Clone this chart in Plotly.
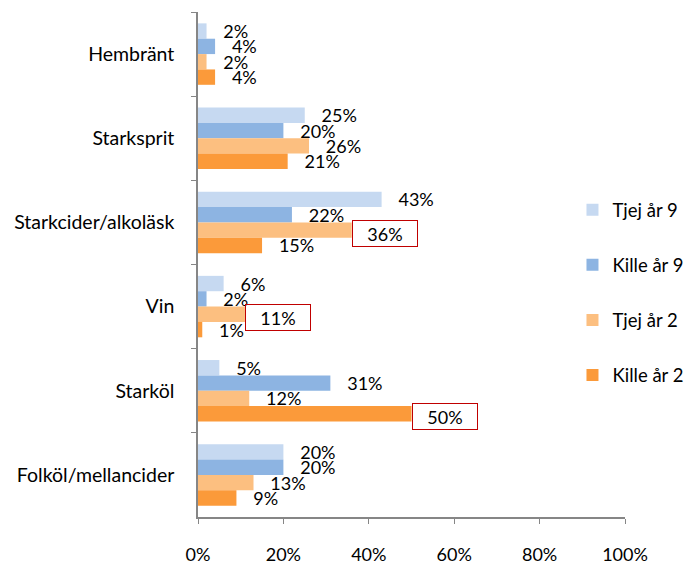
import plotly.graph_objects as go

kategorier = ["Hembränt", "Starksprit", "Starkcider/alkoläsk", "Vin", "Starköl", "Folköl/mellancider"]
serier = ["Tjej år 9", "Kille år 9", "Tjej år 2", "Kille år 2"]
tjej_9 = [2, 25, 43, 6, 5, 20]
kille_9 = [4, 20, 22, 2, 31, 20]
tjej_2 = [2, 26, 36, 11, 12, 13]
kille_2 = [4, 21, 15, 1, 50, 9]
x_ticks = [0, 20, 40, 60, 80, 100]
# (kategori, serie) whose labels are boxed in red
markerade = [("Starkcider/alkoläsk", 2), ("Vin", 2), ("Starköl", 3)]

farger = ["#C6D9F1", "#8DB4E2", "#FCBF80", "#FB9A3A"]
varden = [tjej_9, kille_9, tjej_2, kille_2]

FONT = "Lato, Calibri, sans-serif"
FS = 18
BARGAP = 0.27
TOP, BOTTOM, LEFT, RIGHT = 12, 47, 198, 61
W, H = 686, 564

fig = go.Figure()
for i, (namn, vals) in enumerate(zip(serier, varden)):
    texter = []
    for kat, v in zip(kategorier, vals):
        if (kat, i) in markerade:
            texter.append("")
        else:
            texter.append("\u00a0\u00a0\u00a0" + f"{v}%")
    fig.add_trace(go.Bar(
        y=kategorier, x=vals, name=namn, orientation="h",
        marker=dict(color=farger[i], line=dict(width=0)),
        text=texter, textposition="outside", constraintext="none",
        textfont=dict(size=FS, color="black", family=FONT),
        cliponaxis=False, legendgroup=namn,
    ))

# red boxes around highlighted labels
kat_px = (H - TOP - BOTTOM) / len(kategorier)
bar_w = (1 - BARGAP) / len(serier)
for kat, i in markerade:
    v = varden[i][kategorier.index(kat)]
    offset = (-(1 - BARGAP) / 2 + bar_w * (i + 0.5)) * kat_px
    fig.add_annotation(
        x=v, y=kat, xref="x", yref="y", xanchor="left", yanchor="middle",
        yshift=-offset - 3, text=f"{v}%", showarrow=False, align="center",
        width=61, borderpad=1.5, bordercolor="#C00000", borderwidth=1,
        font=dict(size=FS, color="black", family=FONT),
    )

fig.update_layout(
    width=W, height=H,
    margin=dict(l=LEFT, r=RIGHT, t=TOP, b=BOTTOM, autoexpand=False),
    barmode="group", bargap=BARGAP, bargroupgap=0,
    plot_bgcolor="white", paper_bgcolor="white",
    font=dict(family=FONT, size=FS, color="black"),
    legend=dict(x=0.877, y=0.444, xanchor="left", yanchor="middle",
                traceorder="grouped", tracegroupgap=28, itemwidth=30,
                font=dict(size=18.5), bgcolor="rgba(0,0,0,0)"),
    showlegend=True,
)
fig.update_xaxes(
    range=[0, 100], tickvals=x_ticks, ticktext=[f"{t}%" for t in x_ticks],
    showgrid=False, showline=True, linecolor="#868686", linewidth=1.5,
    ticks="outside", ticklen=5, tickcolor="#868686", zeroline=False,
    ticklabelstandoff=16, tickfont=dict(size=FS), automargin=False,
)
fig.update_yaxes(
    autorange="reversed", showgrid=False, showline=True, linecolor="#868686",
    linewidth=1.5, ticks="outside", ticklen=5, tickcolor="#868686",
    tickson="boundaries", ticklabelstandoff=18, tickfont=dict(size=19.5),
    automargin=False,
)

fig.write_html("out.html", config={"displayModeBar": False},
               post_script="document.body.style.margin='0';")
